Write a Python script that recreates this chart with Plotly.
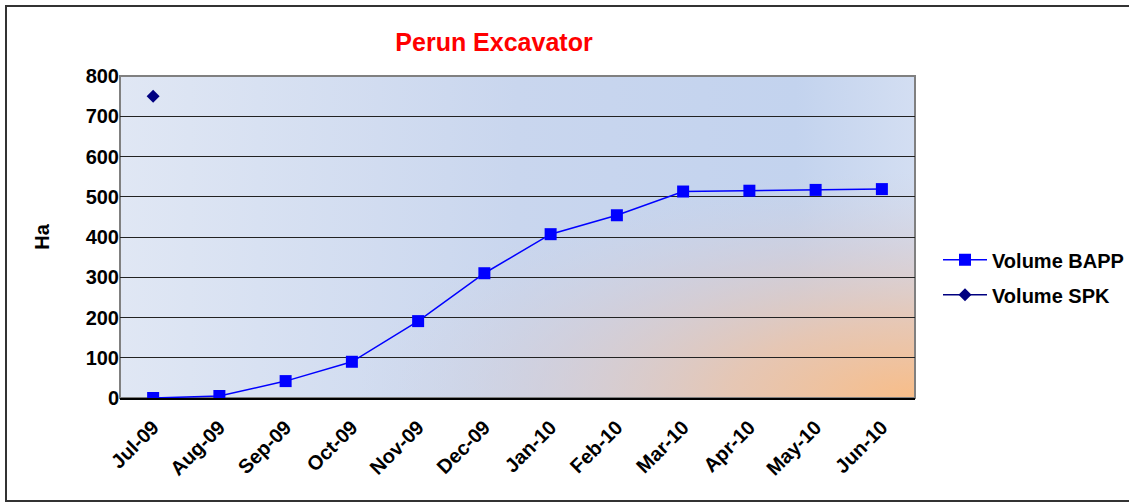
import base64
import plotly.graph_objects as go

months = ["Jul-09", "Aug-09", "Sep-09", "Oct-09", "Nov-09", "Dec-09",
          "Jan-10", "Feb-10", "Mar-10", "Apr-10", "May-10", "Jun-10"]
volume_bapp = [0, 5, 42, 90, 191, 310, 407, 454, 513, 515, 517, 519]
volume_spk = [750, None, None, None, None, None, None, None, None, None, None, None]
y_ticks = [0, 100, 200, 300, 400, 500, 600, 700, 800]

FONT = "Arial, 'Liberation Sans', sans-serif"

svg = """<svg xmlns='http://www.w3.org/2000/svg' width='795' height='322' preserveAspectRatio='none' viewBox='0 0 795 322'>
<defs>
<linearGradient id='lg' x1='0' y1='0' x2='1' y2='0'>
<stop offset='0' stop-color='#e0e7f4'/>
<stop offset='0.5' stop-color='#c9d6ee'/>
<stop offset='0.85' stop-color='#c3d3ee'/>
<stop offset='1' stop-color='#d3def2'/>
</linearGradient>
<radialGradient id='rg' cx='1' cy='1' r='0.78' fx='1' fy='1'>
<stop offset='0' stop-color='#f8bd88' stop-opacity='1'/>
<stop offset='0.3' stop-color='#e9c5ae' stop-opacity='0.9'/>
<stop offset='0.6' stop-color='#d8cbcf' stop-opacity='0.55'/>
<stop offset='0.9' stop-color='#d0d3e2' stop-opacity='0'/>
</radialGradient>
</defs>
<rect width='795' height='322' fill='url(#lg)'/>
<rect width='795' height='322' fill='url(#rg)'/>
</svg>"""
bg_uri = "data:image/svg+xml;base64," + base64.b64encode(svg.encode()).decode()

fig = go.Figure()
fig.add_trace(go.Scatter(
    x=months, y=volume_bapp, name="Volume BAPP", mode="lines+markers",
    line=dict(color="#0000ff", width=1.5),
    marker=dict(symbol="square", size=12, color="#0000ff"),
    legendgroup="a",
))
fig.add_trace(go.Scatter(
    x=months, y=volume_spk, name="Volume SPK", mode="lines+markers",
    line=dict(color="#000080", width=1.5),
    marker=dict(symbol="diamond", size=10, color="#000080"),
    legendgroup="b",
))

fig.update_layout(
    width=1129, height=502,
    margin=dict(l=120, r=214, t=76, b=104, autoexpand=False),
    paper_bgcolor="white", plot_bgcolor="rgba(0,0,0,0)",
    font=dict(family=FONT, size=20, color="black"),
    title=dict(text="<b>Perun Excavator</b>", x=494/1129, xanchor="center",
               y=1 - 42/502, yanchor="middle",
               font=dict(family=FONT, size=25, color="#ff0000")),
    showlegend=True,
    legend=dict(x=(938-120)/795, xanchor="left", y=0.375, yanchor="middle",
                traceorder="grouped", tracegroupgap=6, itemwidth=44,
                font=dict(family=FONT, size=20, color="black", weight="bold"),
                bgcolor="rgba(0,0,0,0)"),
    images=[dict(source=bg_uri, xref="paper", yref="paper", x=0, y=1,
                 sizex=1, sizey=1, xanchor="left", yanchor="top",
                 sizing="stretch", layer="below")],
    shapes=[
        dict(type="rect", xref="paper", yref="paper", x0=0, x1=1, y0=0, y1=1,
             line=dict(color="#808080", width=2), layer="below"),
        dict(type="rect", xref="paper", yref="paper",
             x0=(6-120)/795, x1=(1140-120)/795, y0=(398-501)/322, y1=(398-6)/322,
             line=dict(color="#333333", width=2), layer="above"),
    ],
)
fig.update_xaxes(
    type="category", tickangle=-45, showgrid=False,
    showline=True, linecolor="black", linewidth=1.5,
    tickfont=dict(family=FONT, size=20, weight="bold"),
    ticks="", range=[-0.5, 11.5], ticklabelstandoff=8,
)
fig.update_yaxes(
    range=[0, 800], tickvals=y_ticks, showgrid=True, gridcolor="#222222", gridwidth=1,
    zeroline=False, showline=False, ticks="",
    tickfont=dict(family=FONT, size=20, weight="bold"),
    title=dict(text="<b>Ha</b>", font=dict(family=FONT, size=20), standoff=30),
)

fig.write_html("out.html", config={"displayModeBar": False},
               post_script="document.body.style.margin='0';document.body.style.padding='0';")
